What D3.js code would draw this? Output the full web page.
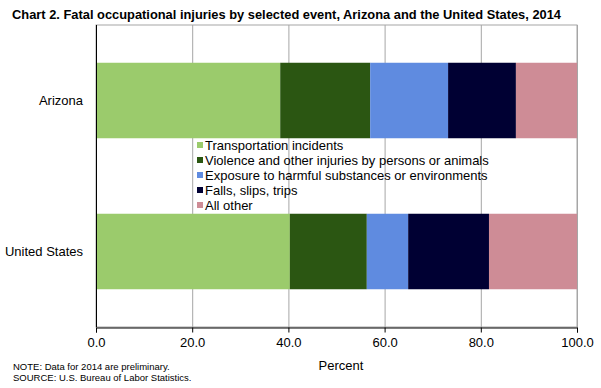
<!DOCTYPE html>
<html>
<head>
<meta charset="utf-8">
<script src="https://cdn.jsdelivr.net/npm/d3@7"></script>
<style>
  body { margin: 0; background: #fff; }
  text { font-family: Arial, "Liberation Sans", sans-serif; }
</style>
</head>
<body>
<div id="chart"></div>
<script>
// data (percent of fatal injuries)
const places = ["Arizona", "United States"];
const events = [
    "Transportation incidents",
    "Violence and other injuries by persons or animals",
    "Exposure to harmful substances or environments",
    "Falls, slips, trips",
    "All other"
];
const arizona = [38.3, 18.7, 16.2, 14.1, 12.7];
const unitedStates = [40.3, 16.0, 8.6, 16.8, 18.3];
const ticks = [0, 20, 40, 60, 80, 100];
const colors = ["#9BCB6C", "#2B5612", "#5F8BE0", "#000033", "#CE8C96"];

const width = 601, height = 388;
const margin = {top: 25, right: 24, bottom: 61, left: 96};

const svg = d3.select("#chart")
    .append("svg")
    .attr("width", width)
    .attr("height", height);

const xScale = d3.scaleLinear()
    .domain([0, 100])
    .range([margin.left, width - margin.right]);

const yScale = d3.scaleBand()
    .domain(places)
    .range([margin.top, height - margin.bottom])
    .paddingInner(0.5)
    .paddingOuter(0.25);

// title
svg.append("text")
    .attr("x", 12)
    .attr("y", 19)
    .attr("font-weight", "bold")
    .attr("font-size", "13px")
    .attr("textLength", 549)
    .attr("lengthAdjust", "spacingAndGlyphs")
    .attr("fill", "#000")
    .text("Chart 2.  Fatal occupational injuries by selected event, Arizona and the United States, 2014");

// plot frame + gridlines
svg.append("rect")
    .attr("x", margin.left)
    .attr("y", margin.top)
    .attr("width", xScale(100) - xScale(0))
    .attr("height", height - margin.bottom - margin.top)
    .attr("fill", "none")
    .attr("stroke", "#a6a6a6");

svg.append("g")
    .selectAll("line")
    .data(ticks.slice(1))
    .enter()
    .append("line")
    .attr("x1", (d) => xScale(d) + 0.5)
    .attr("x2", (d) => xScale(d) + 0.5)
    .attr("y1", margin.top)
    .attr("y2", height - margin.bottom)
    .attr("stroke", "#a6a6a6");

// stacked bars
const rows = places.map((p, i) => {
    const vals = i === 0 ? arizona : unitedStates;
    let acc = 0;
    return vals.map((v, k) => {
        const seg = {place: p, k: k, x0: acc, x1: acc + v};
        acc += v;
        return seg;
    });
}).flat();

svg.append("g")
    .selectAll("rect")
    .data(rows)
    .enter()
    .append("rect")
    .attr("x", (d) => xScale(d.x0))
    .attr("width", (d) => xScale(d.x1) - xScale(d.x0))
    .attr("y", (d) => yScale(d.place))
    .attr("height", yScale.bandwidth())
    .attr("fill", (d) => colors[d.k]);

// x axis
const xAxis = svg.append("g")
    .attr("transform", `translate(0,${height - margin.bottom + 0.5})`)
    .call(d3.axisBottom(xScale).tickValues(ticks).tickFormat(d3.format(".1f")).tickSizeOuter(0).tickSize(5))
    .attr("font-size", "13px");
xAxis.select(".domain").attr("stroke", "#000");
xAxis.selectAll("text").attr("fill", "#000").attr("dy", "0.85em").attr("font-family", "Arial, 'Liberation Sans', sans-serif");

// y axis line
svg.append("line")
    .attr("x1", margin.left + 0.5)
    .attr("x2", margin.left + 0.5)
    .attr("y1", margin.top)
    .attr("y2", height - margin.bottom)
    .attr("stroke", "#000");

// category labels
svg.append("g")
    .selectAll("text")
    .data(places)
    .enter()
    .append("text")
    .attr("x", 83)
    .attr("y", (d) => yScale(d) + yScale.bandwidth() / 2)
    .attr("dy", "0.35em")
    .attr("text-anchor", "end")
    .attr("font-size", "13px")
    .text((d) => d);

// axis title
svg.append("text")
    .attr("x", 341)
    .attr("y", 370)
    .attr("text-anchor", "middle")
    .attr("font-size", "13px")
    .text("Percent");

// legend
const legend = svg.append("g")
    .selectAll("g")
    .data(events)
    .enter()
    .append("g")
    .attr("transform", (d, i) => `translate(197,${145 + i * 15})`);

legend.append("rect")
    .attr("x", 0)
    .attr("y", -3)
    .attr("width", 6)
    .attr("height", 6)
    .attr("fill", (d, i) => colors[i]);

legend.append("text")
    .attr("x", 8)
    .attr("dy", "0.35em")
    .attr("font-size", "13px")
    .text((d) => d);

// notes
svg.append("text")
    .attr("x", 13)
    .attr("y", 370)
    .attr("font-size", "9.5px")
    .text("NOTE: Data for 2014 are preliminary.");
svg.append("text")
    .attr("x", 13)
    .attr("y", 381)
    .attr("font-size", "9.5px")
    .text("SOURCE: U.S. Bureau  of Labor Statistics.");
</script>
</body>
</html>
